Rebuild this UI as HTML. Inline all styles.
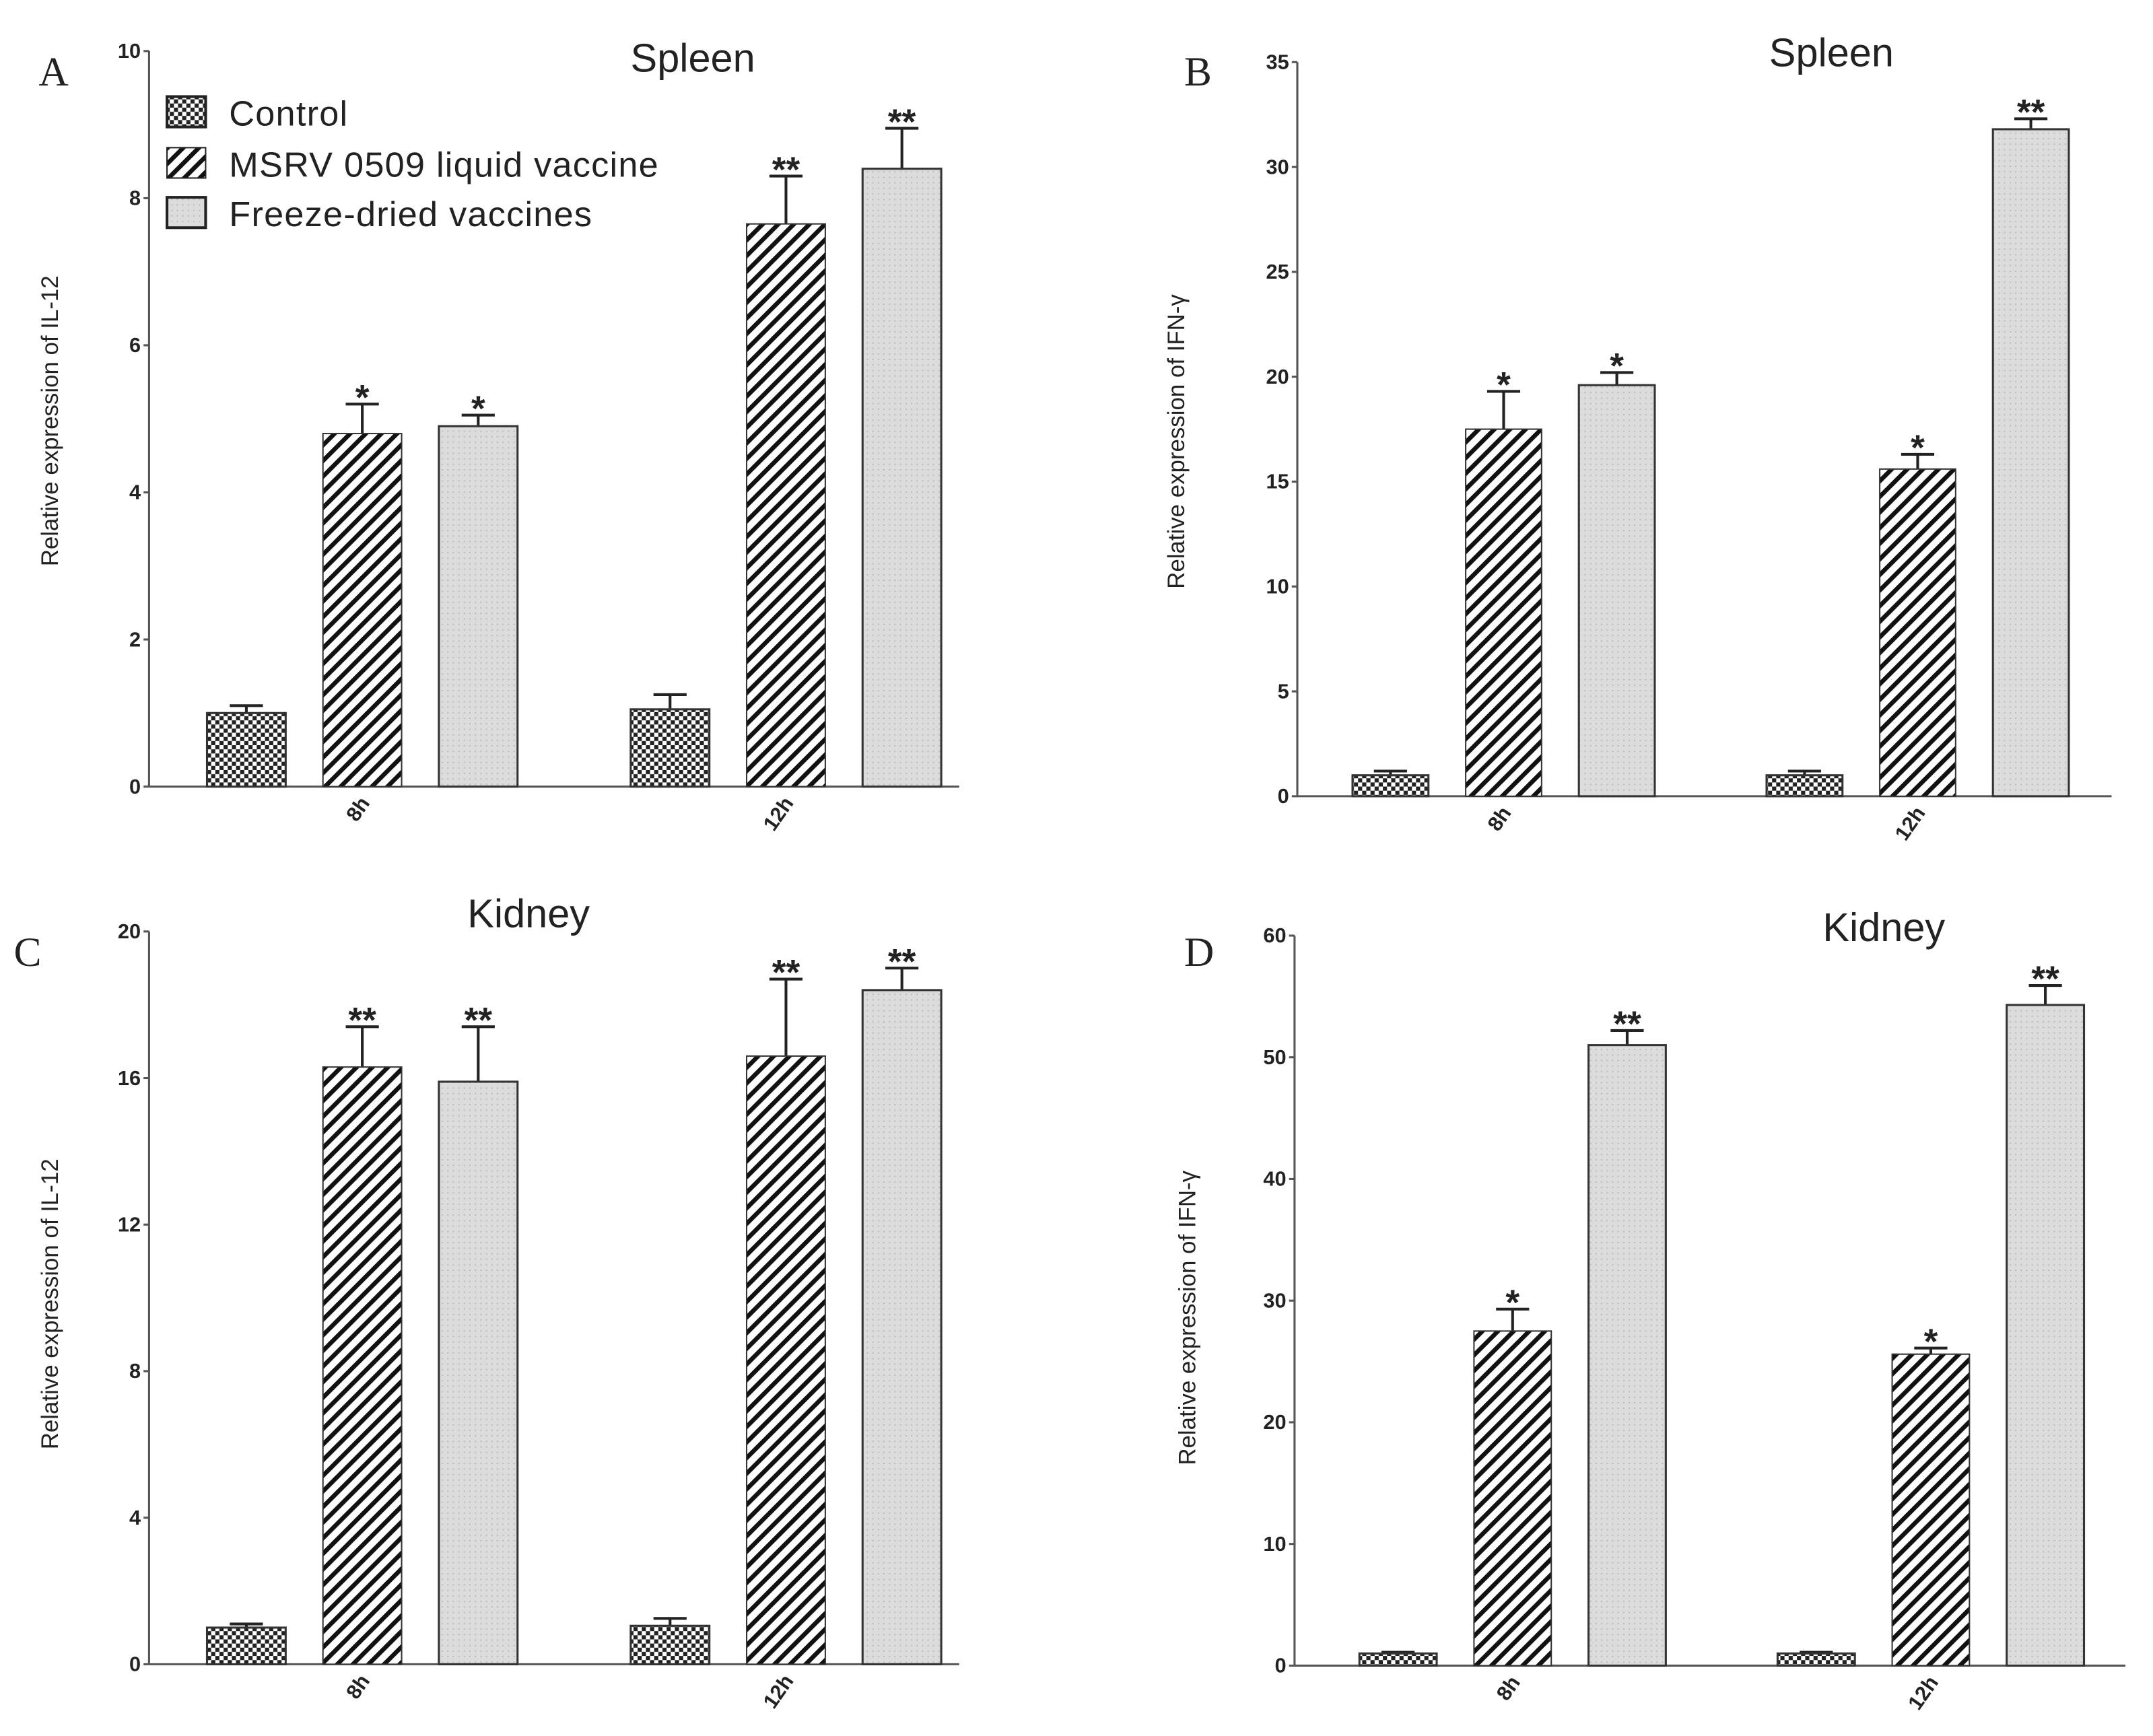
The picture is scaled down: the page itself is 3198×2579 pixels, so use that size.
<!DOCTYPE html>
<html><head><meta charset="utf-8"><style>
html,body{margin:0;padding:0;background:#fff;}
svg{display:block;}
text{font-family:"Liberation Sans",Arial,sans-serif;fill:#222;}
</style></head><body>
<svg id="fig" width="3198" height="2579" viewBox="0 0 1560 1258" preserveAspectRatio="none" xmlns="http://www.w3.org/2000/svg">
<defs>
<pattern id="pCheck" width="6" height="6" patternUnits="userSpaceOnUse"><rect width="6" height="6" fill="#fff"/><rect width="3" height="3" fill="#222"/><rect x="3" y="3" width="3" height="3" fill="#222"/></pattern>
<pattern id="pStripe" width="8" height="8" patternUnits="userSpaceOnUse" patternTransform="rotate(45)"><rect width="8" height="8" fill="#fff"/><rect width="3.2" height="8" fill="#111"/></pattern>
<pattern id="pDot" width="4" height="4" patternUnits="userSpaceOnUse"><rect width="4" height="4" fill="#dcdcdc"/><rect width="1" height="1" fill="#bbb"/></pattern>
</defs>
<g id="legend">
<rect x="121" y="70" width="28" height="22" fill="url(#pCheck)" stroke="#222" stroke-width="2"/>
<text x="166" y="91" font-size="25.5" letter-spacing="0.6">Control</text>
<rect x="121" y="107" width="28" height="22" fill="url(#pStripe)" stroke="#222" stroke-width="1"/>
<text x="166" y="128" font-size="25.5" letter-spacing="0.6">MSRV 0509 liquid vaccine</text>
<rect x="121" y="143" width="28" height="22" fill="url(#pDot)" stroke="#222" stroke-width="2"/>
<text x="166" y="164" font-size="25.5" letter-spacing="0.6">Freeze-dried vaccines</text>
</g>
</svg>
<script>
const groups = ["8h","12h"];
const seriesNames = ["Control","MSRV 0509 liquid vaccine","Freeze-dried vaccines"];
const aValues = [[1.0,4.8,4.9],[1.05,7.65,8.4]];
const aErrors = [[0.1,0.4,0.15],[0.2,0.65,0.55]];
const aStars = [["","*","*"],["","**","**"]];
const aTicks = [0,2,4,6,8,10];
const bValues = [[1.0,17.5,19.6],[1.0,15.6,31.8]];
const bErrors = [[0.2,1.8,0.6],[0.2,0.7,0.5]];
const bStars = [["","*","*"],["","*","**"]];
const bTicks = [0,5,10,15,20,25,30,35];
const cValues = [[1.0,16.3,15.9],[1.05,16.6,18.4]];
const cErrors = [[0.1,1.1,1.5],[0.2,2.1,0.6]];
const cStars = [["","**","**"],["","**","**"]];
const cTicks = [0,4,8,12,16,20];
const dValues = [[1.0,27.5,51.0],[1.0,25.6,54.3]];
const dErrors = [[0.1,1.8,1.2],[0.1,0.5,1.6]];
const dStars = [["","*","**"],["","*","**"]];
const dTicks = [0,10,20,30,40,50,60];

const NS="http://www.w3.org/2000/svg";
const svg=document.getElementById('fig');
const fills=["url(#pCheck)","url(#pStripe)","url(#pDot)"];
function mk(tag,attrs,parent){const e=document.createElementNS(NS,tag);for(const k in attrs)e.setAttribute(k,attrs[k]);(parent||svg).appendChild(e);return e;}

function panel(cfg){
  const g=mk('g',{});
  
  
  const ymax=cfg.ticks[cfg.ticks.length-1];
  const y=v=>cfg.yB-(v/ymax)*(cfg.yB-cfg.yT);
  const ax=mk('line',{x1:cfg.x0,y1:cfg.yT,x2:cfg.x0,y2:cfg.yB,stroke:'#555','stroke-width':1.5},g);
  
  
  const xx=mk('line',{x1:cfg.x0,y1:cfg.yB,x2:cfg.xEnd,y2:cfg.yB,stroke:'#555','stroke-width':1.5},g);
  
  
  cfg.ticks.forEach(t=>{
    mk('line',{x1:cfg.x0-4,y1:y(t),x2:cfg.x0,y2:y(t),stroke:'#555','stroke-width':1.5},g);
    const tl=mk('text',{x:cfg.x0-6,y:y(t)+5,'font-size':15,'text-anchor':'end','font-weight':'bold'},g);
    tl.textContent=t;
    
    
  });
  const yt=mk('text',{x:0,y:0,'font-size':17,'text-anchor':'middle',transform:`translate(${cfg.ytx},${cfg.yty}) rotate(-90)`},g);
  yt.textContent=cfg.ytitle;
  
  
  const ti=mk('text',{x:cfg.tx,y:cfg.ty,'font-size':29,'text-anchor':'middle'},g);
  ti.textContent=cfg.title;
  
  
  const le=mk('text',{x:cfg.lx,y:cfg.ly,'font-size':30,style:'font-family:"Liberation Serif",serif'},g);
  le.textContent=cfg.id.toUpperCase();
  
  
  groups.forEach((gn,gi)=>{
    const left=cfg.lefts[gi];
    cfg.values[gi].forEach((v,si)=>{
      const bx=left+si*cfg.step;
      const e=cfg.errors[gi][si];
      const cx=bx+cfg.w/2;
      const el=mk('line',{x1:cx,y1:y(v),x2:cx,y2:y(v+e),stroke:'#222','stroke-width':2},g);
      
      
      mk('line',{x1:cx-12,y1:y(v+e),x2:cx+12,y2:y(v+e),stroke:'#222','stroke-width':2},g);
      const r=mk('rect',{x:bx,y:y(v),width:cfg.w,height:cfg.yB-y(v),fill:fills[si],stroke:'#333','stroke-width':si==1?1:1.5},g);
      
      
      if(cfg.stars[gi][si]){
        const s=mk('text',{x:cx,y:y(v+e)+4,'font-size':26,'text-anchor':'middle','font-weight':'bold'},g);
        s.textContent=cfg.stars[gi][si];
        
        
      }
    });
    const gc=left+cfg.step+cfg.w/2;
    const xl=mk('text',{x:0,y:0,'font-size':15,'text-anchor':'end','font-weight':'bold',transform:`translate(${gc+6},${cfg.yB+12}) rotate(-55)`},g);
    xl.textContent=gn;
    
    
  });
}
panel({id:'a',x0:108,xEnd:695,yB:570,yT:37,ticks:aTicks,values:aValues,errors:aErrors,stars:aStars,lefts:[150,457],w:57,step:84,title:'Spleen',tx:502,ty:52,lx:28,ly:62,ytitle:'Relative expression of IL-12',ytx:42,yty:305});
panel({id:'b',x0:940,xEnd:1530,yB:577,yT:45,ticks:bTicks,values:bValues,errors:bErrors,stars:bStars,lefts:[980,1280],w:55,step:82,title:'Spleen',tx:1327,ty:48,lx:858,ly:62,ytitle:'Relative expression of IFN-γ',ytx:858,yty:320});
panel({id:'c',x0:108,xEnd:695,yB:1206,yT:675,ticks:cTicks,values:cValues,errors:cErrors,stars:cStars,lefts:[150,457],w:57,step:84,title:'Kidney',tx:383,ty:672,lx:10,ly:700,ytitle:'Relative expression of IL-12',ytx:42,yty:945});
panel({id:'d',x0:938,xEnd:1540,yB:1207,yT:678,ticks:dTicks,values:dValues,errors:dErrors,stars:dStars,lefts:[985,1288],w:56,step:83,title:'Kidney',tx:1365,ty:682,lx:858,ly:700,ytitle:'Relative expression of IFN-γ',ytx:866,yty:955});
</script>
</body></html>
